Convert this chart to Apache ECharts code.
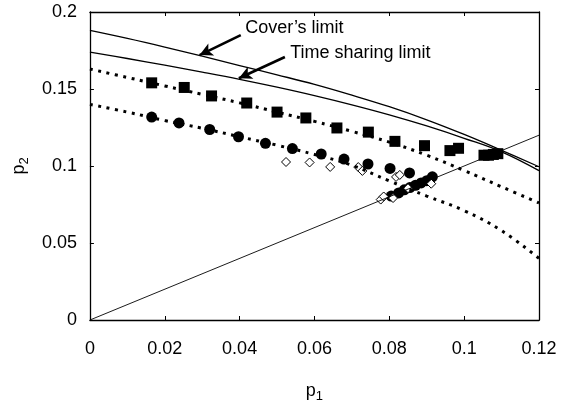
<!DOCTYPE html>
<html>
<head>
<meta charset="utf-8">
<script src="https://cdn.jsdelivr.net/npm/echarts@6/dist/echarts.min.js"></script>
<style>
  html, body { margin: 0; padding: 0; background: #fff; }
</style>
</head>
<body>
<div id="chart" style="width: 571px; height: 409px"></div>
<script>
// limits (solid curves)
var coverLimit = [[0, 0.188], [0.01, 0.1828], [0.02, 0.1772], [0.03, 0.1713], [0.04, 0.1652], [0.05, 0.1592],
  [0.06, 0.153], [0.07, 0.146], [0.08, 0.1385], [0.09, 0.130], [0.10, 0.1205], [0.11, 0.1102], [0.12, 0.0995]];
var timeSharingLimit = [[0, 0.174], [0.01, 0.1698], [0.02, 0.1655], [0.03, 0.161], [0.04, 0.1563], [0.05, 0.1512],
  [0.06, 0.1457], [0.07, 0.1397], [0.08, 0.1332], [0.09, 0.126], [0.10, 0.118], [0.11, 0.1092], [0.12, 0.097]];
var diagonal = [[0, 0], [0.12, 0.12]];

// dotted curves
var upperDotted = [[0, 0.163], [0.01, 0.1575], [0.02, 0.152], [0.03, 0.1465], [0.04, 0.141], [0.05, 0.135],
  [0.06, 0.129], [0.07, 0.1225], [0.08, 0.1155], [0.09, 0.107], [0.10, 0.097], [0.11, 0.0865], [0.12, 0.076]];
var lowerDotted = [[0, 0.140], [0.01, 0.135], [0.02, 0.1295], [0.03, 0.1245], [0.04, 0.119], [0.05, 0.1135],
  [0.06, 0.1075], [0.07, 0.1005], [0.08, 0.0903], [0.09, 0.0805], [0.10, 0.071], [0.11, 0.058], [0.12, 0.040]];

// markers
var squares = [[0.0165, 0.154], [0.0252, 0.151], [0.0325, 0.1455], [0.0419, 0.1409], [0.050, 0.135],
  [0.0577, 0.1312], [0.066, 0.1247], [0.0744, 0.122], [0.0815, 0.116], [0.0894, 0.1132], [0.0962, 0.110],
  [0.0985, 0.1115], [0.1053, 0.107], [0.1065, 0.107], [0.1078, 0.1075], [0.109, 0.108]];
var circles = [[0.0165, 0.1318], [0.0238, 0.128], [0.032, 0.1237], [0.0397, 0.119], [0.0469, 0.1147],
  [0.0541, 0.1113], [0.0618, 0.1078], [0.0679, 0.1045], [0.0743, 0.1013], [0.0802, 0.0984], [0.0854, 0.0955],
  [0.0915, 0.093], [0.0805, 0.0805], [0.0825, 0.0825], [0.084, 0.0845], [0.0855, 0.086], [0.087, 0.0875],
  [0.0885, 0.089], [0.090, 0.0905]];
var diamonds = [[0.0524, 0.1026], [0.0587, 0.1023], [0.0642, 0.0994], [0.0717, 0.0993], [0.0728, 0.0968],
  [0.0818, 0.0929], [0.0828, 0.0942], [0.0777, 0.0782], [0.0785, 0.0802], [0.081, 0.0792], [0.085, 0.0856],
  [0.0912, 0.0885]];

// annotations
var labelTexts = ['Cover’s limit', 'Time sharing limit'];
var labelAt = [[0.0415, 0.1896], [0.0535, 0.1734]];
var arrows = [[[0.0403, 0.185], [0.0293, 0.172]], [[0.0521, 0.1708], [0.0398, 0.157]]];

var xTicks = [0, 0.02, 0.04, 0.06, 0.08, 0.1, 0.12];
var yTicks = [0, 0.05, 0.1, 0.15, 0.2];

var myChart = echarts.init(document.getElementById('chart'));
var font = 'Liberation Sans';

function axisBase(extra) {
  return Object.assign({
    type: 'value',
    axisLine: { show: true, onZero: false, lineStyle: { color: '#000', width: 1.3 } },
    axisTick: { show: true, inside: true, length: 4, lineStyle: { color: '#000', width: 1 } },
    splitLine: { show: false },
  }, extra);
}

var nameRich = function () {
  return {
    a: { fontSize: 18, fontFamily: font, color: '#000', verticalAlign: 'top', lineHeight: 18 },
    b: { fontSize: 13, fontFamily: font, color: '#000', lineHeight: 13, padding: [10, 0, 0, 0] }
  };
};

var option = {
  animation: false,
  backgroundColor: '#fff',
  textStyle: { fontFamily: font },
  grid: { left: 81, right: 32, top: 12, bottom: 89 },
  xAxis: [
    axisBase({
      min: 0, max: 0.12, interval: 0.02,
      axisLabel: {
        color: '#000', fontSize: 18, margin: 20, fontFamily: font,
        formatter: function (v) { return String(+v.toFixed(2)); }
      },
      name: '{a|p}{b|1}', nameLocation: 'middle', nameGap: 62,
      nameTextStyle: { rich: nameRich() }
    }),
    axisBase({ position: 'top', min: 0, max: 0.12, interval: 0.02, axisLabel: { show: false } })
  ],
  yAxis: [
    axisBase({
      min: 0, max: 0.2, interval: 0.05,
      axisLabel: {
        color: '#000', fontSize: 18, margin: 13, fontFamily: font,
        formatter: function (v) { return String(+v.toFixed(2)); }
      },
      name: '{a|p}{b|2}', nameLocation: 'middle', nameGap: 50,
      nameTextStyle: { rich: nameRich() }
    }),
    axisBase({ position: 'right', min: 0, max: 0.2, interval: 0.05, axisLabel: { show: false } })
  ],
  series: [
    {
      name: 'cover', type: 'line', data: coverLimit, smooth: 0.4, symbol: 'none',
      lineStyle: { color: '#000', width: 1.3 }
    },
    {
      name: 'timesharing', type: 'line', data: timeSharingLimit, smooth: 0.4, symbol: 'none',
      lineStyle: { color: '#000', width: 1.3 }
    },
    {
      name: 'diagonal', type: 'line', data: diagonal, symbol: 'none',
      lineStyle: { color: '#000', width: 0.9 }
    },
    {
      name: 'upperDotted', type: 'line', data: upperDotted, smooth: 0.4, symbol: 'none',
      lineStyle: { color: '#000', width: 3, type: [3, 5.5] }
    },
    {
      name: 'lowerDotted', type: 'line', data: lowerDotted, smooth: 0.4, symbol: 'none',
      lineStyle: { color: '#000', width: 3, type: [3, 5.5] }
    },
    {
      name: 'squares', type: 'scatter', data: squares, symbol: 'rect', symbolSize: 11,
      itemStyle: { color: '#000', opacity: 1 }
    },
    {
      name: 'circles', type: 'scatter', data: circles, symbol: 'circle', symbolSize: 11,
      itemStyle: { color: '#000', opacity: 1 }
    },
    {
      name: 'diamonds', type: 'scatter', data: diamonds, symbol: 'diamond', symbolSize: 9,
      itemStyle: { color: '#fff', borderColor: '#000', borderWidth: 1, opacity: 1 }
    },
    {
      name: 'labels', type: 'scatter', symbolSize: 0, silent: true,
      data: labelAt.map(function (p, i) { return { value: p, name: labelTexts[i] }; }),
      itemStyle: { opacity: 1 },
      label: {
        show: true, position: 'right', distance: 0, color: '#000', fontSize: 18, fontFamily: font,
        formatter: function (p) { return p.name; }
      },
      markLine: {
        silent: true, symbol: ['none', 'arrow'], symbolSize: [10, 13],
        label: { show: false },
        lineStyle: { color: '#000', width: 2.6, type: 'solid', opacity: 1 },
        data: arrows.map(function (a) {
          return [{ coord: a[0] }, { coord: a[1] }];
        })
      }
    }
  ]
};

myChart.setOption(option);
</script>
</body>
</html>
